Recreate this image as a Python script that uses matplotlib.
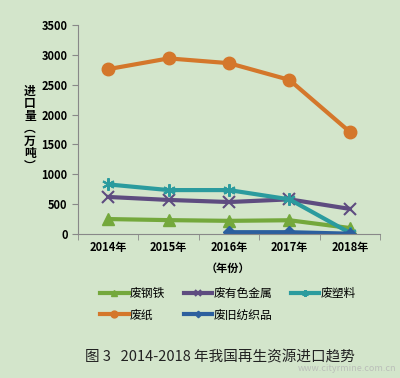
import numpy as np
import matplotlib.pyplot as plt

plt.rcParams['font.family'] = ['Noto Sans CJK SC', 'DejaVu Sans']
plt.rcParams['axes.unicode_minus'] = False

years = ["2014年", "2015年", "2016年", "2017年", "2018年"]
steel = [250, 232, 220, 230, 100]
nonferrous = [620, 570, 535, 580, 420]
plastic = [830, 735, 735, 580, 20]
paper = [2760, 2940, 2860, 2580, 1710]
textile = [np.nan, np.nan, 30, 30, 5]

bg = '#d3e5cb'
fig = plt.figure(figsize=(4, 3.78), dpi=100, facecolor=bg)
ax = fig.add_axes([0.195, 0.381, 0.755, 0.553], facecolor=bg)

x = np.arange(len(years))
h1, = ax.plot(x, steel, color='#74a83c', lw=3, marker='^', ms=8, label='废钢铁')
h2, = ax.plot(x, nonferrous, color='#5e4c80', lw=3, marker='x', ms=8, mew=1.5, label='废有色金属')
h3, = ax.plot(x, plastic, color='#2b9b9e', lw=3, marker=(6, 2, 0), ms=9, mew=1.5, label='废塑料')
h4, = ax.plot(x, paper, color='#d4772b', lw=3, marker='o', ms=9, label='废纸')
h5, = ax.plot(x, textile, color='#2c5f9e', lw=3, marker='D', ms=6, label='废旧纺织品')

ax.set_xlim(-0.5, 4.5)
ax.set_ylim(0, 3500)
ax.set_yticks(range(0, 3501, 500))
ax.set_xticks(x)
ax.set_xticklabels(years, fontsize=8, fontweight='bold')
ax.set_xticks(np.arange(-0.5, 4.6, 1), minor=True)
ax.tick_params(axis='x', which='major', length=0, pad=5)
ax.tick_params(axis='x', which='minor', length=4, color='#888888', direction='out')
ax.tick_params(axis='y', labelsize=8, length=4, color='#888888', direction='out')
for lab in ax.get_yticklabels():
    lab.set_fontweight('bold')
for s in ['top', 'right']:
    ax.spines[s].set_visible(False)
for s in ['left', 'bottom']:
    ax.spines[s].set_color('#888888')

fig.text(0.075, 0.66, "进\n口\n量\n︵\n万\n吨\n︶", fontsize=8.5, fontweight='bold',
         ha='center', va='center', linespacing=0.95)
fig.text(0.57, 0.29, "（年份）", fontsize=8, fontweight='bold', ha='center', va='center')

# column-wise fill: order so rows read steel/nonferrous/plastic, paper/textile
fig.legend([h1, h4, h2, h5, h3], ['废钢铁', '废纸', '废有色金属', '废旧纺织品', '废塑料'],
           loc='center', bbox_to_anchor=(0.57, 0.195), ncol=3, frameon=False,
           fontsize=8.5, handlelength=2.4, columnspacing=1.6, labelspacing=0.7,
           handletextpad=0.1, markerscale=0.55)

fig.text(0.55, 0.055, "图 3   2014-2018 年我国再生资源进口趋势", fontsize=10.5,
         ha='center', va='center', color='#222222')
fig.text(0.99, 0.012, "www.cityrmine.com.cn", fontsize=6.5, ha='right', va='bottom',
         color='#b5b5b5', alpha=0.8)

fig.savefig('out.png', dpi=100, facecolor=bg)
